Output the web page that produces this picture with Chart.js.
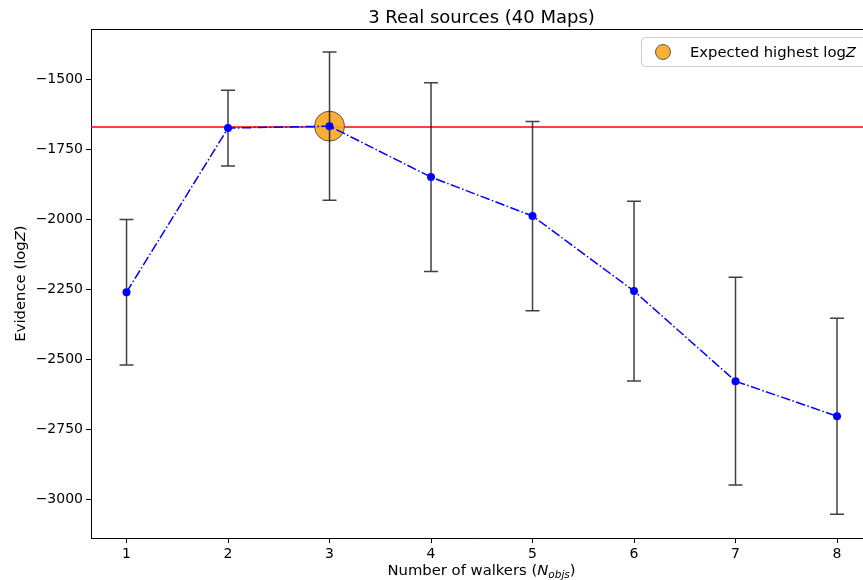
<!DOCTYPE html>
<html>
<head>
<meta charset="utf-8">
<script src="https://cdn.jsdelivr.net/npm/chart.js@4.4.1/dist/chart.umd.min.js"></script>
<style>
  html, body { margin: 0; padding: 0; background: #fff; overflow: hidden; }
  #wrap { width: 863px; height: 580px; }
</style>
</head>
<body>
<div id="wrap"><canvas id="evidenceChart"></canvas></div>
<script>
// ---- data ----
const walkers = [1, 2, 3, 4, 5, 6, 7, 8];
const logZ = [-2261, -1675, -1668, -1850, -1989, -2257, -2579, -2704];
const logZErr = [260, 135, 265, 337, 338, 321, 371, 350];
const bestWalkers = 3;
const bestLogZ = -1671;
const yTicks = [-3000, -2750, -2500, -2250, -2000, -1750, -1500];

const FONT = "'DejaVu Sans', sans-serif";
const MINUS = "\u2212";

// draws a run of [text, font, dy] pieces, centred or left aligned at x
function drawRuns(ctx, runs, x, y, align) {
    const widths = runs.map(r => { ctx.font = r[1]; return ctx.measureText(r[0]).width; });
    const total = widths.reduce((a, b) => a + b, 0);
    let cur = align === "center" ? x - total / 2 : x;
    ctx.textAlign = "left";
    runs.forEach((r, i) => {
        ctx.font = r[1];
        ctx.fillText(r[0], cur, y + (r[2] || 0));
        cur += widths[i];
    });
}

// red reference line, drawn behind everything
const refLine = {
    id: "refLine",
    beforeDatasetsDraw(chart) {
        const { ctx, chartArea, scales } = chart;
        const y = scales.y.getPixelForValue(bestLogZ);
        ctx.save();
        ctx.strokeStyle = "#ff0000";
        ctx.lineWidth = 1.5;
        ctx.beginPath();
        ctx.moveTo(chartArea.left, y);
        ctx.lineTo(chartArea.right, y);
        ctx.stroke();
        ctx.restore();
    }
};

// error bars, drawn just before the blue line dataset
const errorBars = {
    id: "errorBars",
    beforeDatasetDraw(chart, args) {
        if (args.index !== 1) return;
        const { ctx, scales } = chart;
        ctx.save();
        ctx.strokeStyle = "rgba(0,0,0,0.75)";
        ctx.lineWidth = 1.5;
        walkers.forEach((w, i) => {
            const x = scales.x.getPixelForValue(w);
            const yTop = scales.y.getPixelForValue(logZ[i] + logZErr[i]);
            const yBot = scales.y.getPixelForValue(logZ[i] - logZErr[i]);
            ctx.beginPath();
            ctx.moveTo(x, yTop); ctx.lineTo(x, yBot);
            ctx.moveTo(x - 7, yTop); ctx.lineTo(x + 7, yTop);
            ctx.moveTo(x - 7, yBot); ctx.lineTo(x + 7, yBot);
            ctx.stroke();
        });
        ctx.restore();
    }
};

// frame, titles, legend box
const decorations = {
    id: "decorations",
    afterDraw(chart) {
        const { ctx, chartArea } = chart;
        const cx = (chartArea.left + 872) / 2;
        const reg = "14.8px " + FONT;
        const ital = "italic 14.8px " + FONT;
        ctx.save();

        // top spine (left and bottom come from the axes)
        ctx.strokeStyle = "#000";
        ctx.lineWidth = 1;
        ctx.beginPath();
        ctx.moveTo(chartArea.left, chartArea.top + 0.5);
        ctx.lineTo(chartArea.right, chartArea.top + 0.5);
        ctx.stroke();

        ctx.fillStyle = "#000";
        ctx.textBaseline = "alphabetic";

        // title
        ctx.textAlign = "center";
        ctx.font = "18px " + FONT;
        ctx.fillText("3 Real sources (40 Maps)", cx, 23);

        // x label with subscript
        drawRuns(ctx, [
            ["Number of walkers (", reg],
            ["N", ital],
            ["objs", "italic 10.5px " + FONT, 3],
            [")", reg]
        ], cx, 575, "center");

        // y label, rotated
        ctx.save();
        ctx.translate(25, (chartArea.top + chartArea.bottom) / 2);
        ctx.rotate(-Math.PI / 2);
        drawRuns(ctx, [["Evidence (log", reg], ["Z", ital], [")", reg]], 0, 0, "center");
        ctx.restore();

        // legend box
        const lx = 641.5, ly = 37.5, lw = 240, lh = 29;
        ctx.beginPath();
        ctx.roundRect(lx, ly, lw, lh, 4);
        ctx.fillStyle = "rgba(255,255,255,0.8)";
        ctx.fill();
        ctx.strokeStyle = "#cccccc";
        ctx.lineWidth = 1;
        ctx.stroke();
        ctx.beginPath();
        ctx.arc(663, 52, 7.5, 0, Math.PI * 2);
        ctx.fillStyle = "rgba(247,166,32,0.9)";
        ctx.fill();
        ctx.strokeStyle = "rgba(60,60,60,0.8)";
        ctx.stroke();
        ctx.fillStyle = "#000";
        drawRuns(ctx, [["Expected highest log", reg], ["Z", ital]], 690, 57, "left");

        ctx.restore();
    }
};

new Chart(document.getElementById("evidenceChart"), {
    type: "scatter",
    data: {
        datasets: [
            {
                label: "Expected highest logZ",
                data: [{ x: bestWalkers, y: logZ[walkers.indexOf(bestWalkers)] }],
                pointRadius: 15,
                pointHoverRadius: 15,
                backgroundColor: "rgba(247,166,32,0.9)",
                borderColor: "rgba(60,60,60,0.8)",
                borderWidth: 1,
                order: 2
            },
            {
                label: "logZ",
                type: "line",
                data: walkers.map((w, i) => ({ x: w, y: logZ[i] })),
                borderColor: "#0000ff",
                borderWidth: 1.5,
                borderDash: [9.6, 2.4, 1.5, 2.4],
                backgroundColor: "#0000ff",
                pointRadius: 4,
                pointBorderWidth: 0,
                fill: false,
                tension: 0,
                order: 1
            }
        ]
    },
    options: {
        responsive: true,
        maintainAspectRatio: false,
        animation: false,
        events: [],
        layout: { autoPadding: false, padding: { top: 29, left: 0, right: 0, bottom: 0 } },
        plugins: {
            legend: { display: false },
            title: { display: false },
            tooltip: { enabled: false }
        },
        scales: {
            x: {
                type: "linear",
                min: 0.65,
                max: 8.256,
                afterBuildTicks: s => { s.ticks = walkers.map(v => ({ value: v })); },
                afterFit: s => { s.height = 42; },
                grid: {
                    drawOnChartArea: false,
                    drawTicks: true,
                    tickLength: 5,
                    tickColor: "#000",
                    color: "#000"
                },
                border: { color: "#000", width: 1 },
                ticks: {
                    color: "#000",
                    font: { family: FONT, size: 14 },
                    padding: 3,
                    maxRotation: 0
                }
            },
            y: {
                type: "linear",
                min: -3139,
                max: -1321,
                afterBuildTicks: s => { s.ticks = yTicks.map(v => ({ value: v })); },
                afterFit: s => { s.width = 91; },
                grid: {
                    drawOnChartArea: false,
                    drawTicks: true,
                    tickLength: 5,
                    tickColor: "#000",
                    color: "#000"
                },
                border: { color: "#000", width: 1 },
                ticks: {
                    color: "#000",
                    font: { family: FONT, size: 14 },
                    padding: 3,
                    callback: v => String(v).replace("-", MINUS)
                }
            }
        }
    },
    plugins: [refLine, errorBars, decorations]
});
</script>
</body>
</html>
